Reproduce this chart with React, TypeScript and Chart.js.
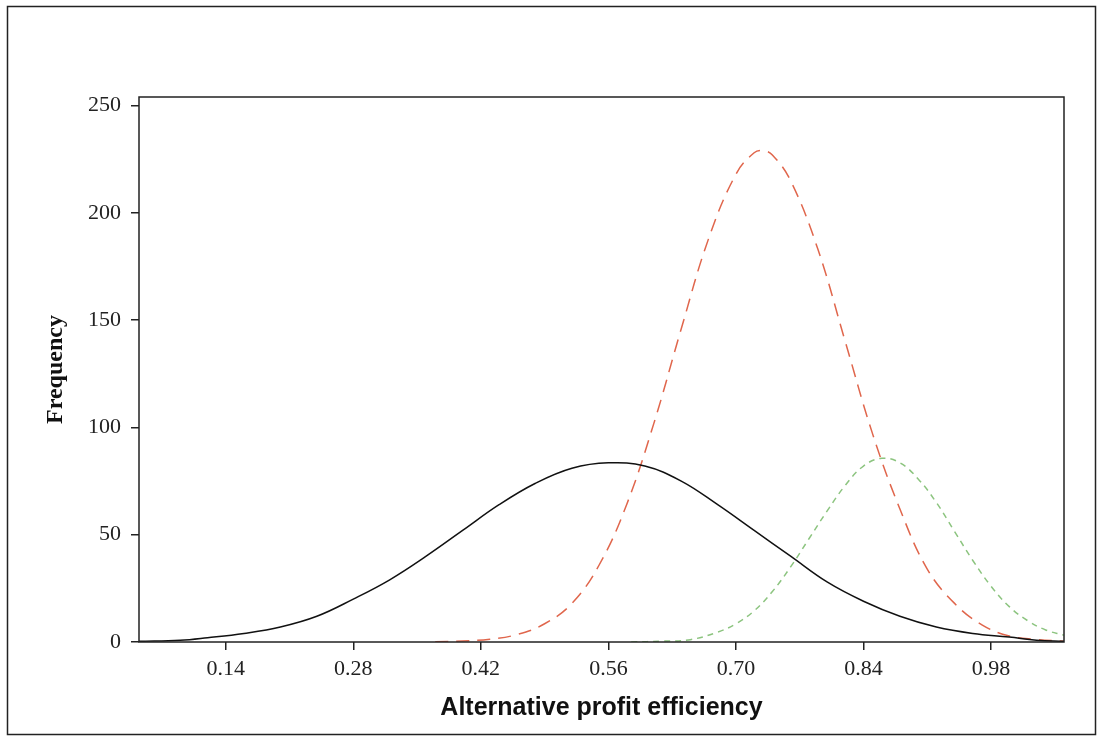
import React, { useEffect, useRef } from "react";
import { Chart, registerables } from "chart.js";

Chart.register(...registerables);

const xTickValues = [0.14, 0.28, 0.42, 0.56, 0.7, 0.84, 0.98];
const yTickValues = [0, 50, 100, 150, 200, 250];

const blackX = [0.045, 0.09, 0.12, 0.16, 0.2, 0.24, 0.28, 0.32, 0.36, 0.4, 0.44, 0.48, 0.52, 0.56, 0.6, 0.64, 0.68, 0.72, 0.76, 0.8, 0.84, 0.88, 0.92, 0.96, 1.0, 1.03, 1.06];
const blackY = [0.3, 0.8, 2, 4, 7, 12, 20, 29, 40, 52, 64, 74, 81, 83.5, 82, 75, 64, 52, 40, 28, 19, 12, 7, 4, 2.3, 0.8, 0.3];

const redX = [0.37, 0.4, 0.43, 0.46, 0.49, 0.52, 0.55, 0.58, 0.61, 0.64, 0.67, 0.7, 0.72, 0.73, 0.74, 0.76, 0.79, 0.82, 0.85, 0.88, 0.91, 0.94, 0.97, 1.0, 1.03, 1.06];
const redY = [0.1, 0.5, 1.3, 3.5, 8.5, 18, 36, 64, 102, 146, 188, 218, 228, 229, 227, 215, 183, 140, 97, 62, 34, 18, 8, 2.8, 1.2, 0.4];

const greenX = [0.585, 0.62, 0.65, 0.68, 0.7, 0.72, 0.74, 0.76, 0.78, 0.8, 0.82, 0.84, 0.86, 0.88, 0.9, 0.92, 0.94, 0.96, 0.98, 1.0, 1.02, 1.04, 1.06];
const greenY = [0, 0.4, 1.1, 4.6, 8.5, 14.5, 23.5, 35, 48, 61, 73, 82, 85.6, 83.5, 76, 65, 51.5, 38, 26, 16.5, 10, 5.6, 3.2];

const toPoints = (xs: number[], ys: number[]) => xs.map((x, i) => ({ x, y: ys[i] }));

export default function App() {
  const ref = useRef<HTMLCanvasElement>(null);

  useEffect(() => {
    if (!ref.current) return;
    const framePlugin = {
      id: "frame",
      afterDraw(chart: any) {
        const { ctx, chartArea: a } = chart;
        ctx.save();
        ctx.strokeStyle = "#222";
        ctx.lineWidth = 1.5;
        ctx.strokeRect(7.5, 6.5, 1088, 728);
        ctx.strokeRect(a.left, a.top, a.right - a.left, a.bottom - a.top);
        ctx.restore();
      },
    };

    const chart = new Chart(ref.current, {
      type: "line",
      data: {
        datasets: [
          {
            data: toPoints(blackX, blackY),
            borderColor: "#111",
            borderWidth: 1.5,
            pointRadius: 0,
            tension: 0.4,
            fill: false,
          },
          {
            data: toPoints(redX, redY),
            borderColor: "#e0664c",
            borderWidth: 1.5,
            borderDash: [13, 8],
            pointRadius: 0,
            tension: 0.4,
            fill: false,
          },
          {
            data: toPoints(greenX, greenY),
            borderColor: "#8cc47f",
            borderWidth: 1.5,
            borderDash: [6, 5],
            pointRadius: 0,
            tension: 0.4,
            fill: false,
          },
        ],
      },
      options: {
        animation: false,
        responsive: false,
        maintainAspectRatio: false,
        layout: { padding: { left: 0, right: 39, top: 97, bottom: 0 } },
        plugins: { legend: { display: false }, tooltip: { enabled: false } },
        scales: {
          x: {
            type: "linear",
            min: 0.0448,
            max: 1.0601,
            afterBuildTicks: (axis: any) => {
              axis.ticks = xTickValues.map((v) => ({ value: v }));
            },
            afterFit: (scale: any) => {
              scale.height = 99;
            },
            grid: {
              display: true,
              drawOnChartArea: false,
              drawTicks: true,
              tickLength: 8,
              color: "#222",
              lineWidth: 1.5,
            },
            border: { display: false },
            ticks: {
              autoSkip: false,
              maxRotation: 0,
              padding: 6,
              color: "#222",
              font: { family: "Liberation Serif", size: 22 },
              callback: (v: any) => Number(v).toFixed(2),
            },
            title: {
              display: true,
              text: "Alternative profit efficiency",
              color: "#111",
              font: { family: "Liberation Sans", weight: "bold", size: 25 },
              padding: { top: 0, bottom: 18 },
            },
          },
          y: {
            type: "linear",
            min: 0,
            max: 254,
            afterBuildTicks: (axis: any) => {
              axis.ticks = yTickValues.map((v) => ({ value: v }));
            },
            afterFit: (scale: any) => {
              scale.width = 139;
            },
            grid: {
              display: true,
              drawOnChartArea: false,
              drawTicks: true,
              tickLength: 8,
              color: "#222",
              lineWidth: 1.5,
            },
            border: { display: false },
            ticks: {
              autoSkip: false,
              padding: 10,
              color: "#222",
              font: { family: "Liberation Serif", size: 22 },
              callback: (v: any) => String(v),
            },
            title: {
              display: true,
              text: "Frequency",
              color: "#111",
              font: { family: "Liberation Serif", weight: "bold", size: 24 },
              padding: { top: 41, bottom: 0 },
            },
          },
        },
      },
      plugins: [framePlugin],
    } as any);

    return () => chart.destroy();
  }, []);

  return (
    <div style={{ position: "absolute", left: 0, top: 0, width: 1103, height: 741, background: "#fff" }}>
      <canvas ref={ref} width={1103} height={741} style={{ width: 1103, height: 741, display: "block" }} />
    </div>
  );
}
